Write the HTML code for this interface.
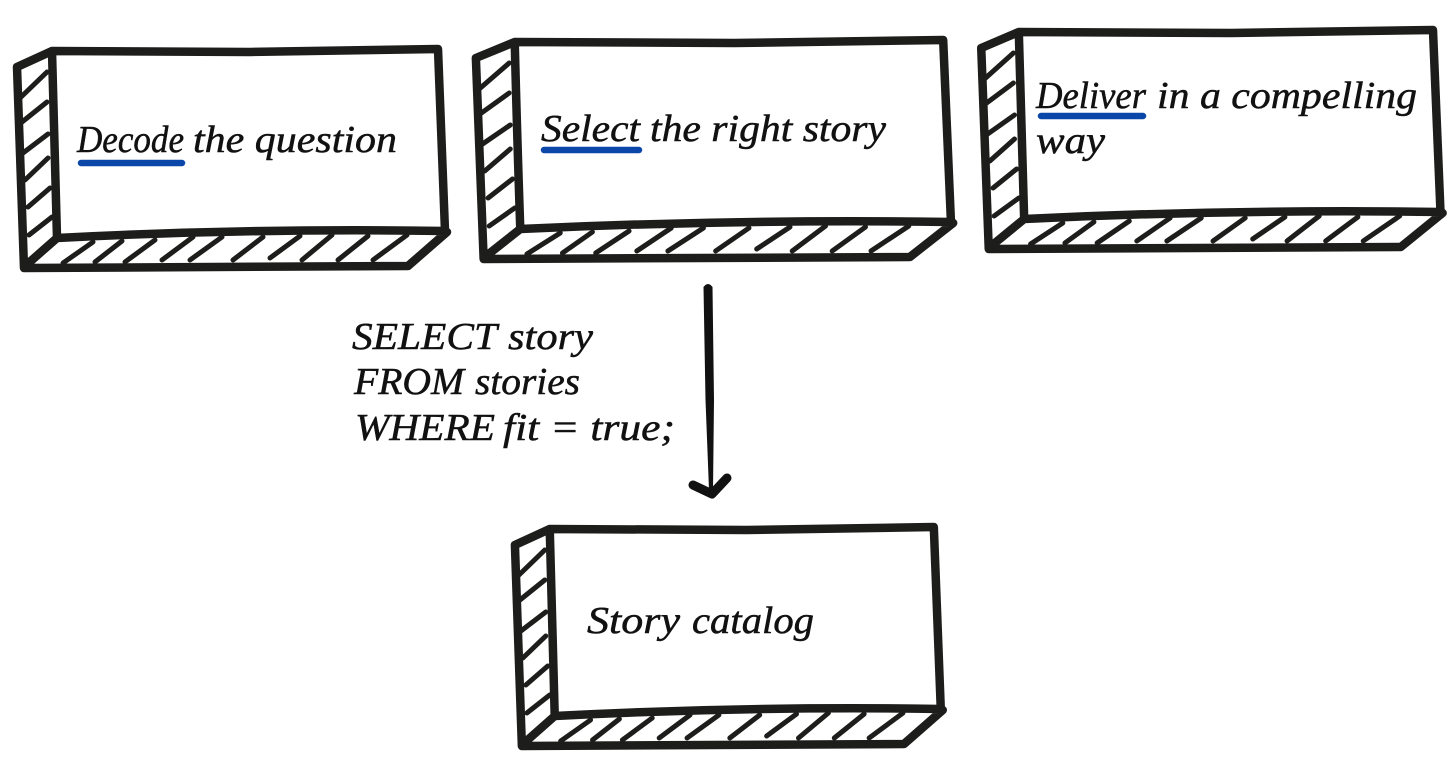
<!DOCTYPE html>
<html><head><meta charset="utf-8"><style>
html,body{margin:0;padding:0;background:#fff;width:1456px;height:779px;overflow:hidden}
svg{display:block}
.b path{fill:none;stroke:#1d1d1b;stroke-linecap:round;stroke-linejoin:round;vector-effect:non-scaling-stroke}
.o{stroke-width:8.5}.h{stroke-width:5}
text{font-family:"Liberation Serif",serif;font-style:italic;font-size:38px;fill:#111;stroke:#111;stroke-width:.5}
.u{stroke:#0b47a8;stroke-width:6.5;stroke-linecap:round;fill:none}
</style></head><body>
<svg width="1456" height="779" viewBox="0 0 1456 779" xmlns="http://www.w3.org/2000/svg">
<g class="b">
<path class="o" d="M52 51L250 52L438 49Q441 120 445 231Q250 228 57 238Q54 140 52 51L17 67L24 268L408 266L447 232M24 267L57 238"/>
<path class="h" d="M20 98L47 72M22 122L47 102M23 153L48 134M25 180L48 158M28 207L50 188M29 235L52 217M63 263L93 242M95 262L122 241M125 262L155 240M162 260L193 237M190 260L222 237M233 260L263 237M270 258L300 236M302 260L332 235M338 260L368 236M373 260L407 235"/>
</g>
<g class="b" transform="translate(457,-9) scale(1.11,1)">
<path class="o" d="M52 51L250 52L438 49Q441 120 445 231Q250 228 57 238Q54 140 52 51L17 67L24 268L408 266L447 232M24 267L57 238"/>
<path class="h" d="M20 98L47 72M22 122L47 102M23 153L48 134M25 180L48 158M28 207L50 188M29 235L52 217M63 263L93 242M95 262L122 241M125 262L155 240M162 260L193 237M190 260L222 237M233 260L263 237M270 258L300 236M302 260L332 235M338 260L368 236M373 260L407 235"/>
</g>
<g class="b" transform="translate(963,-19) scale(1.073,1)">
<path class="o" d="M52 51L250 52L438 49Q441 120 445 231Q250 228 57 238Q54 140 52 51L17 67L24 268L408 266L447 232M24 267L57 238"/>
<path class="h" d="M20 98L47 72M22 122L47 102M23 153L48 134M25 180L48 158M28 207L50 188M29 235L52 217M63 263L93 242M95 262L122 241M125 262L155 240M162 260L193 237M190 260L222 237M233 260L263 237M270 258L300 236M302 260L332 235M338 260L368 236M373 260L407 235"/>
</g>
<g class="b" transform="translate(498,478) scale(.995,1)">
<path class="o" d="M52 51L250 52L438 49Q441 120 445 231Q250 228 57 238Q54 140 52 51L17 67L24 268L408 266L447 232M24 267L57 238"/>
<path class="h" d="M20 98L47 72M22 122L47 102M23 153L48 134M25 180L48 158M28 207L50 188M29 235L52 217M63 263L93 242M95 262L122 241M125 262L155 240M162 260L193 237M190 260L222 237M233 260L263 237M270 258L300 236M302 260L332 235M338 260L368 236M373 260L407 235"/>
</g>
<path class="u" d="M81 163L182 163"/>
<path class="u" d="M544 150L639 150"/>
<path class="u" d="M1041 116L1143 116"/>
<text x="77" y="152" textLength="107" lengthAdjust="spacingAndGlyphs">Decode</text>
<text x="193" y="152" textLength="204" lengthAdjust="spacingAndGlyphs">the question</text>
<text x="541" y="141" textLength="99" lengthAdjust="spacingAndGlyphs">Select</text>
<text x="650" y="141" textLength="236" lengthAdjust="spacingAndGlyphs">the right story</text>
<text x="1036" y="108" textLength="110" lengthAdjust="spacingAndGlyphs">Deliver</text>
<text x="1157" y="108" textLength="260" lengthAdjust="spacingAndGlyphs">in a compelling</text>
<text x="1036" y="153" textLength="69" lengthAdjust="spacingAndGlyphs">way</text>
<text x="587" y="633" textLength="93" lengthAdjust="spacingAndGlyphs">Story</text>
<text x="692" y="633" textLength="122" lengthAdjust="spacingAndGlyphs">catalog</text>
<text x="352" y="349" textLength="145" lengthAdjust="spacingAndGlyphs">SELECT</text>
<text x="508" y="349" textLength="85" lengthAdjust="spacingAndGlyphs">story</text>
<text x="354" y="394" textLength="110" lengthAdjust="spacingAndGlyphs">FROM</text>
<text x="475" y="394" textLength="105" lengthAdjust="spacingAndGlyphs">stories</text>
<text x="355" y="440" textLength="140" lengthAdjust="spacingAndGlyphs">WHERE</text>
<text x="503" y="440" textLength="172" lengthAdjust="spacingAndGlyphs">fit = true;</text>
<path d="M703.500 287Q708 281 712.500 287L714 400L713 490L709 490L705.500 400Z" fill="#111"/>
<path d="M693 485L712 494L727 478" fill="none" stroke="#111" stroke-width="9" stroke-linecap="round" stroke-linejoin="round"/>
</svg>
</body></html>
